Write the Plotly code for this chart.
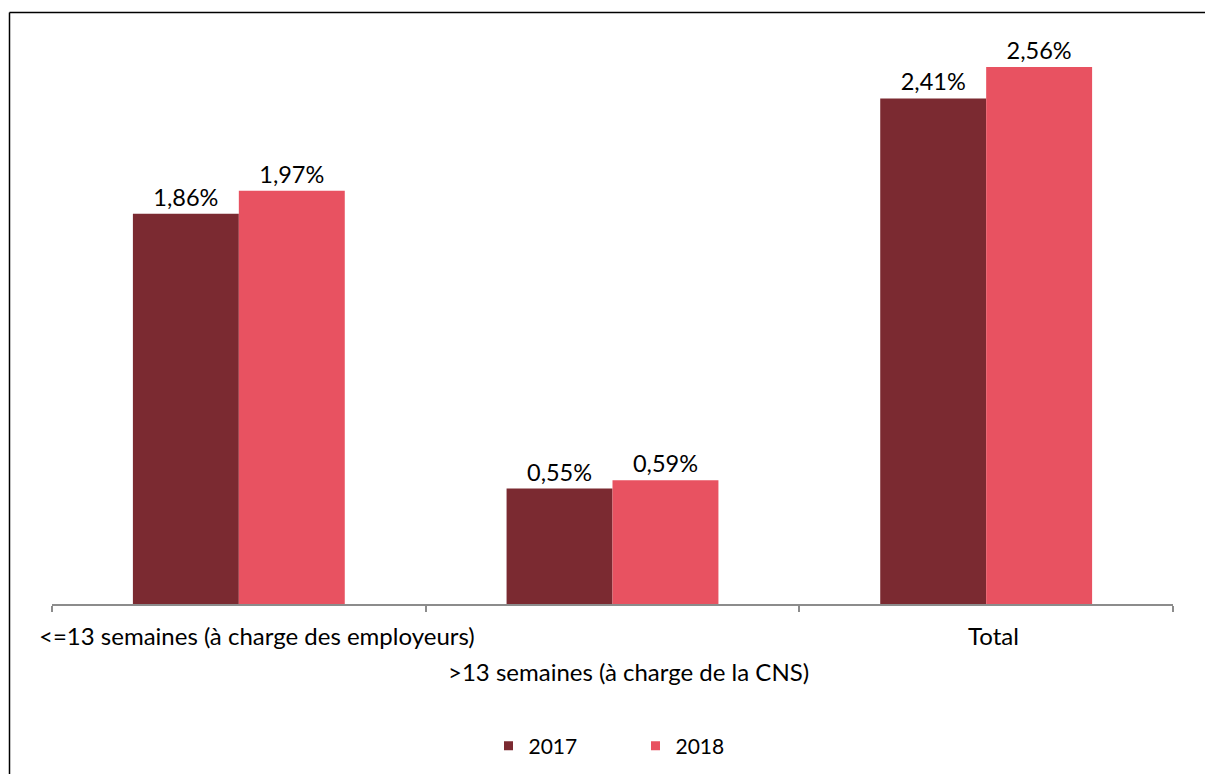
import plotly.graph_objects as go

categories = ["<=13 semaines (à charge des employeurs)", ">13 semaines (à charge de la CNS)", "Total"]
values_2017 = [1.86, 0.55, 2.41]
values_2018 = [1.97, 0.59, 2.56]
series_names = ["2017", "2018"]
colors = ["#7B2A31", "#E85261"]

FONT = "Lato"
W, H = 1205, 774
L, R, T, BOT = 52, 1173, 20, 604
PW = R - L
PAPER_H = H - T              # paper spans from T to bottom of figure
D0 = (H - BOT) / PAPER_H     # y-domain start = x-axis line
PLOT_H = BOT - T

fig = go.Figure()
for name, vals, col in zip(series_names, [values_2017, values_2018], colors):
    fig.add_trace(go.Bar(
        x=categories, y=vals, name=name, marker=dict(color=col, line=dict(width=0)),
        texttemplate="%{y:.2f}%", textposition="outside", cliponaxis=False,
        textfont=dict(family=FONT, size=23.5, color="#000000"), showlegend=False,
    ))
    fig.add_trace(go.Scatter(
        x=[None], y=[None], mode="markers", name=name,
        marker=dict(symbol="square", size=9, color=col),
    ))

# staggered category labels
label_rows = [0, 1, 0]
label_xshift = [18, 16, 7]
for cat, row, xs in zip(categories, label_rows, label_xshift):
    fig.add_annotation(x=cat, xref="x", y=D0, yref="paper", yanchor="middle",
                       yshift=-31 - 36 * row, xshift=xs, text=cat, showarrow=False,
                       font=dict(family=FONT, size=24, color="#000000"))

# outer frame (only left and top edges visible)
fx0 = (9.5 - L) / PW
fy1 = (H - 12.5) / PAPER_H
fig.add_shape(type="line", xref="paper", yref="paper", x0=fx0, x1=fx0,
              y0=-5 / PAPER_H, y1=fy1, line=dict(color="#000000", width=1.5))
fig.add_shape(type="line", xref="paper", yref="paper", x0=fx0, x1=(W + 5 - L) / PW,
              y0=fy1, y1=fy1, line=dict(color="#000000", width=1.5))

fig.update_layout(
    width=W, height=H,
    margin=dict(l=L, r=W - R, t=T, b=0),
    paper_bgcolor="white", plot_bgcolor="white",
    barmode="group", bargap=0.433, bargroupgap=0,
    separators=", ",
    font=dict(family=FONT, size=20, color="#000000"),
    xaxis=dict(range=[-0.5, len(categories) - 0.5], autorange=False,
               showticklabels=False, showline=True, linecolor="#8c8c8c", linewidth=1.5,
               ticks="outside", tickson="boundaries", ticklen=6, tickcolor="#8c8c8c",
               tickwidth=1.5, showgrid=False, zeroline=False),
    yaxis=dict(domain=[D0, 1], range=[0, PLOT_H / 209.8], autorange=False, visible=False,
               showgrid=False, zeroline=False),
    legend=dict(orientation="h", x=0.5 + 23 / PW, xanchor="center", y=(H - 746) / PAPER_H,
                yanchor="middle", font=dict(family=FONT, size=21, color="#000000"), entrywidth=102,
                entrywidthmode="pixels", itemwidth=30, bgcolor="rgba(0,0,0,0)"),
)

fig.write_html("out.html", config={"displayModeBar": False},
               post_script="document.body.style.margin='0';document.body.style.overflow='hidden';")
